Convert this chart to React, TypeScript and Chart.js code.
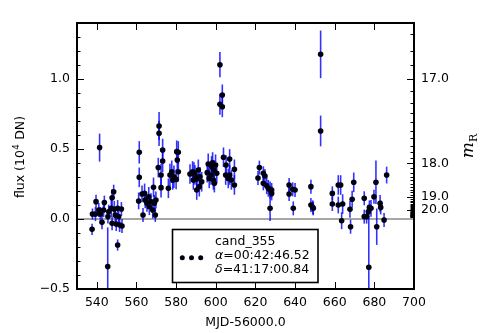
import React, { useEffect, useRef } from "react";
import { Chart, registerables } from "chart.js";
Chart.register(...registerables);

const mjd = [
  537.6, 537.8, 539.3, 539.6, 541.0, 541.4, 541.8, 542.6, 543.4, 543.8, 545.5, 545.6, 546.0, 547.3, 547.7, 547.7,
  548.5, 548.8, 549.3, 549.8, 550.5, 550.5, 551.0, 551.5, 552.4, 552.7,
  561.1, 561.4, 561.4, 562.8, 563.3, 564.1, 564.4, 565.3, 566.2, 566.5, 567.3, 568.2, 568.6, 569.0, 569.5, 569.8,
  571.0, 571.4, 571.4, 572.4, 572.4, 573.2, 573.2, 576.1, 576.9, 577.8, 578.3, 578.9, 580.0, 580.3, 580.6, 581.1, 581.1,
  587.0, 588.3, 588.7, 589.0, 589.5, 590.4, 590.4, 591.2, 591.7, 592.0, 592.9,
  595.7, 596.2, 596.7, 597.6, 597.9, 598.4, 598.8, 599.1, 599.3, 599.9, 600.5,
  602.1, 602.1, 603.3, 603.3, 603.9, 605.0, 605.2, 606.3, 607.0, 607.0, 607.9, 609.4, 609.4,
  621.3, 622.0, 624.0, 624.0, 624.8, 625.7, 626.5, 627.4, 627.4, 628.2, 628.2,
  637.0, 637.0, 638.8, 639.1, 640.0, 648.0, 648.0, 648.9, 649.2, 652.9, 652.9,
  658.8, 658.8, 661.8, 661.8, 663.0, 663.5, 664.0, 667.7, 668.0, 668.8, 669.6,
  674.9, 674.9, 676.1, 677.0, 677.2, 677.5, 678.3, 679.8, 680.8, 681.2, 682.9, 683.2, 684.9, 686.2,
];
const flux = [
  -0.074, 0.035, 0.035, 0.124, 0.064, 0.51, 0.036, -0.024, 0.064, 0.117, -0.34, 0.017, 0.052, 0.076, 0.152, -0.031,
  0.195, 0.069, 0.029, -0.036, 0.076, -0.186, 0.017, -0.043, 0.071, -0.05,
  0.129, 0.476, 0.298, 0.179, 0.029, 0.183, 0.136, 0.112, 0.159, 0.088, 0.124, 0.064, 0.226, 0.112, 0.029, 0.136,
  0.367, 0.664, 0.612, 0.224, 0.314, 0.493, 0.414, 0.219, 0.314, 0.338, 0.279, 0.302, 0.283, 0.481, 0.421, 0.476, 0.338,
  0.321, 0.338, 0.279, 0.33, 0.314, 0.286, 0.207, 0.35, 0.231, 0.302, 0.266,
  0.331, 0.393, 0.29, 0.314, 0.374, 0.402, 0.279, 0.35, 0.255, 0.386, 0.326,
  1.102, 0.819, 0.886, 0.802, 0.441, 0.314, 0.386, 0.29, 0.429, 0.314, 0.279, 0.355, 0.243,
  0.293, 0.367, 0.326, 0.255, 0.307, 0.238, 0.219, 0.207, 0.076, 0.207, 0.183,
  0.243, 0.179, 0.212, 0.076, 0.207, 0.231, 0.1, 0.083, 0.076, 1.176, 0.629,
  0.183, 0.107, 0.243, 0.1, 0.243, -0.012, 0.107, 0.069, -0.055, 0.141, 0.262,
  0.148, 0.017, 0.017, 0.052, -0.345, 0.083, 0.076, 0.159, 0.262, -0.055, 0.112, 0.083, -0.007, 0.314,
];
const fluxErr = [
  0.04, 0.04, 0.05, 0.05, 0.05, 0.1, 0.05, 0.05, 0.05, 0.05, 0.28, 0.05, 0.05, 0.06, 0.06, 0.05,
  0.05, 0.06, 0.06, 0.05, 0.06, 0.04, 0.05, 0.05, 0.05, 0.05,
  0.06, 0.08, 0.07, 0.06, 0.05, 0.07, 0.06, 0.06, 0.07, 0.06, 0.06, 0.06, 0.07, 0.06, 0.05, 0.06,
  0.07, 0.1, 0.09, 0.07, 0.08, 0.08, 0.08, 0.07, 0.08, 0.08, 0.07, 0.08, 0.07, 0.08, 0.08, 0.08, 0.07,
  0.07, 0.075, 0.07, 0.075, 0.07, 0.07, 0.07, 0.075, 0.07, 0.07, 0.07,
  0.07, 0.075, 0.07, 0.07, 0.075, 0.075, 0.07, 0.07, 0.065, 0.075, 0.07,
  0.09, 0.075, 0.075, 0.075, 0.07, 0.07, 0.07, 0.07, 0.07, 0.07, 0.07, 0.07, 0.07,
  0.05, 0.05, 0.05, 0.05, 0.05, 0.06, 0.06, 0.06, 0.09, 0.05, 0.05,
  0.05, 0.05, 0.05, 0.05, 0.05, 0.05, 0.05, 0.05, 0.05, 0.17, 0.11,
  0.05, 0.05, 0.07, 0.06, 0.07, 0.06, 0.07, 0.06, 0.05, 0.06, 0.07,
  0.05, 0.05, 0.05, 0.05, 0.37, 0.05, 0.06, 0.05, 0.155, 0.13, 0.06, 0.05, 0.05, 0.06,
];

const xTickValues = [540, 560, 580, 600, 620, 640, 660, 680, 700];
const yTickValues = [-0.5, 0.0, 0.5, 1.0];
const magLabelValues = [17, 18, 19, 20];
const legendName = "cand_355";
const legendRA = "00:42:46.52";
const legendDec = "41:17:00.84";

const X_MIN = 530, X_MAX = 700, Y_MIN = -0.5, Y_MAX = 1.4;
const FONT = "12.5px 'DejaVu Sans'";

const magToFlux = (m: number) => Math.pow(10, -0.4 * (m - 17));

// magnitude tick positions (in tenths of a magnitude)
const magTicks: { mag: number; major: boolean }[] = [];
for (let t = 167; t <= 215; t++) {
  const m = t / 10;
  if (magToFlux(m) <= Y_MAX) magTicks.push({ mag: m, major: t % 10 === 0 && magLabelValues.includes(t / 10) });
}

const decor = {
  id: "decor",
  beforeDatasetsDraw(chart: any) {
    const { ctx, chartArea: a, scales } = chart;
    const xs = scales.x, ys = scales.y;
    ctx.save();
    ctx.beginPath();
    ctx.rect(a.left, a.top, a.right - a.left, a.bottom - a.top);
    ctx.clip();
    const y0 = ys.getPixelForValue(0);
    ctx.strokeStyle = "#8a8a8a";
    ctx.lineWidth = 1.6;
    ctx.beginPath();
    ctx.moveTo(a.left, y0);
    ctx.lineTo(a.right + 2, y0);
    ctx.stroke();
    ctx.strokeStyle = "rgba(0,0,255,0.8)";
    ctx.lineWidth = 1.6;
    for (let i = 0; i < mjd.length; i++) {
      const px = xs.getPixelForValue(mjd[i]);
      const t = ys.getPixelForValue(flux[i] + fluxErr[i]);
      const b = ys.getPixelForValue(flux[i] - fluxErr[i]);
      ctx.beginPath();
      ctx.moveTo(px, t);
      ctx.lineTo(px, b);
      ctx.stroke();
    }
    ctx.restore();
  },
  afterDraw(chart: any) {
    const { ctx, chartArea: a, scales } = chart;
    const xs = scales.x, ys = scales.y;
    ctx.save();
    ctx.strokeStyle = "#000";
    ctx.lineWidth = 1;
    const MAJ = 7, MIN = 3.5;
    for (const v of xTickValues) {
      const px = Math.round(xs.getPixelForValue(v)) + 0.5;
      ctx.beginPath();
      ctx.moveTo(px, a.bottom);
      ctx.lineTo(px, a.bottom - MAJ);
      ctx.moveTo(px, a.top);
      ctx.lineTo(px, a.top + MAJ);
      ctx.stroke();
    }
    for (let t = -5; t <= 14; t++) {
      const v = t / 10;
      const py = Math.round(ys.getPixelForValue(v)) + 0.5;
      const len = t % 5 === 0 ? MAJ : MIN;
      ctx.beginPath();
      ctx.moveTo(a.left, py);
      ctx.lineTo(a.left + len, py);
      ctx.stroke();
    }
    for (const mt of magTicks) {
      const py = Math.round(ys.getPixelForValue(magToFlux(mt.mag))) + 0.5;
      const len = mt.major ? MAJ : MIN;
      ctx.beginPath();
      ctx.moveTo(a.right, py);
      ctx.lineTo(a.right - len, py);
      ctx.stroke();
    }
    ctx.lineWidth = 2;
    ctx.strokeRect(a.left, a.top, a.right - a.left, a.bottom - a.top);

    // legend
    const lx = 172.5, ly = 229.5, lw = 145.5, lh = 53;
    ctx.fillStyle = "#fff";
    ctx.fillRect(lx, ly, lw, lh);
    ctx.lineWidth = 1.6;
    ctx.strokeStyle = "#000";
    ctx.strokeRect(lx, ly, lw, lh);
    ctx.fillStyle = "#000010";
    for (const dx of [182.3, 191.5, 200.7]) {
      ctx.beginPath();
      ctx.arc(dx, 257.7, 2.5, 0, Math.PI * 2);
      ctx.fill();
    }
    ctx.fillStyle = "#000";
    ctx.textBaseline = "middle";
    ctx.textAlign = "left";
    ctx.font = FONT;
    ctx.fillText(legendName, 215, 241.5);
    const drawMath = (sym: string, rest: string, x: number, y: number) => {
      ctx.font = "italic 12.5px 'DejaVu Sans'";
      ctx.fillText(sym, x, y);
      const w = ctx.measureText(sym).width;
      ctx.font = FONT;
      ctx.fillText("=" + rest, x + w, y);
    };
    drawMath("α", legendRA, 215, 256);
    drawMath("δ", legendDec, 215, 270);

    // x title
    ctx.font = FONT;
    ctx.textAlign = "center";
    ctx.fillText("MJD-56000.0", (a.left + a.right) / 2, 323);

    // left y title
    ctx.save();
    ctx.translate(21, (a.top + a.bottom) / 2 + 1);
    ctx.rotate(-Math.PI / 2);
    ctx.textAlign = "left";
    const p1 = "flux (10", p3 = " DN)";
    ctx.font = FONT;
    const w1 = ctx.measureText(p1).width;
    const w3 = ctx.measureText(p3).width;
    ctx.font = "8.5px 'DejaVu Sans'";
    const w2 = ctx.measureText("4").width;
    const total = w1 + w2 + w3 + 1;
    const x0 = -total / 2;
    ctx.font = FONT;
    ctx.fillText(p1, x0, 0);
    ctx.font = "8.5px 'DejaVu Sans'";
    ctx.fillText("4", x0 + w1 + 0.5, -4);
    ctx.font = FONT;
    ctx.fillText(p3, x0 + w1 + w2 + 1, 0);
    ctx.restore();

    // right title: m_R
    ctx.save();
    ctx.translate(470, 146);
    ctx.rotate(-Math.PI / 2);
    ctx.textAlign = "left";
    ctx.font = "italic 17px 'DejaVu Serif'";
    const wm = ctx.measureText("m").width;
    ctx.font = "11px 'DejaVu Serif'";
    const wr = ctx.measureText("R").width;
    const tot = wm + wr;
    ctx.font = "italic 17px 'DejaVu Serif'";
    ctx.fillText("m", -tot / 2, -1);
    ctx.font = "11px 'DejaVu Serif'";
    ctx.fillText("R", -tot / 2 + wm, 4);
    ctx.restore();

    ctx.restore();
  },
};

export default function App() {
  const ref = useRef<HTMLCanvasElement | null>(null);
  useEffect(() => {
    document.body.style.margin = "0";
    const canvas = ref.current!;
    const tickFont = { family: "'DejaVu Sans'", size: 12.5 };
    const chart = new Chart(canvas, {
      type: "scatter",
      data: {
        datasets: [
          {
            data: mjd.map((x, i) => ({ x, y: flux[i] })),
            pointRadius: 2.8,
            pointBackgroundColor: "#000010",
            pointBorderWidth: 0,
            pointHoverRadius: 2.8,
            showLine: false,
          },
        ],
      },
      options: {
        responsive: false,
        animation: false,
        events: [],
        layout: { padding: { top: 23, left: 0, right: 0, bottom: 0 }, autoPadding: false } as any,
        plugins: { legend: { display: false }, tooltip: { enabled: false } },
        scales: {
          x: {
            type: "linear",
            min: X_MIN,
            max: X_MAX,
            grid: { display: false, drawTicks: false },
            border: { display: false },
            afterBuildTicks: (s: any) => {
              s.ticks = xTickValues.map((v) => ({ value: v }));
            },
            afterFit: (s: any) => {
              s.height = 44;
            },
            ticks: {
              autoSkip: false,
              maxRotation: 0,
              padding: 6,
              color: "#000",
              font: tickFont,
              callback: (v: any) => String(v),
            },
          },
          y: {
            type: "linear",
            position: "left",
            min: Y_MIN,
            max: Y_MAX,
            grid: { display: false, drawTicks: false },
            border: { display: false },
            afterBuildTicks: (s: any) => {
              s.ticks = yTickValues.map((v) => ({ value: v }));
            },
            afterFit: (s: any) => {
              s.width = 77;
            },
            ticks: {
              autoSkip: false,
              padding: 7,
              color: "#000",
              font: tickFont,
              callback: (v: any) => Number(v).toFixed(1).replace("-", "\u2212"),
            },
          },
          y2: {
            type: "linear",
            position: "right",
            min: Y_MIN,
            max: Y_MAX,
            grid: { display: false, drawTicks: false },
            border: { display: false },
            afterBuildTicks: (s: any) => {
              s.ticks = magTicks.map((m) => ({ value: magToFlux(m.mag) }));
            },
            afterFit: (s: any) => {
              s.width = 66;
            },
            ticks: {
              autoSkip: false,
              padding: 7,
              color: "#000",
              font: tickFont,
              callback: (_v: any, i: number) => (magTicks[i] && magTicks[i].major ? magTicks[i].mag.toFixed(1) : ""),
            },
          },
        },
      },
      plugins: [decor],
    } as any);
    return () => chart.destroy();
  }, []);
  return (
    <div style={{ width: 480, height: 333 }}>
      <canvas ref={ref} width={480} height={333} style={{ display: "block" }} />
    </div>
  );
}
